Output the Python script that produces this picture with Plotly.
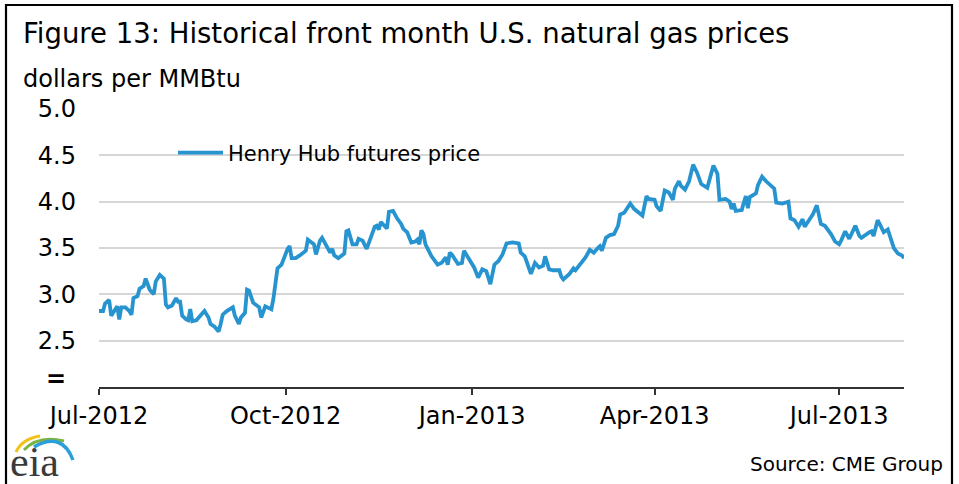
import plotly.graph_objects as go

# ---------------- data ----------------
dates = [
    "2012-07-01", "2012-07-03", "2012-07-04", "2012-07-06", "2012-07-07", "2012-07-08",
    "2012-07-10", "2012-07-11", "2012-07-12", "2012-07-14", "2012-07-16", "2012-07-17",
    "2012-07-18", "2012-07-20", "2012-07-21", "2012-07-23", "2012-07-24", "2012-07-26",
    "2012-07-28", "2012-07-29", "2012-07-31",
    "2012-08-02", "2012-08-03", "2012-08-04", "2012-08-06", "2012-08-08", "2012-08-09",
    "2012-08-10", "2012-08-11", "2012-08-13", "2012-08-14", "2012-08-15", "2012-08-16",
    "2012-08-18", "2012-08-20", "2012-08-22", "2012-08-24", "2012-08-25", "2012-08-27",
    "2012-08-29", "2012-08-30", "2012-08-31",
    "2012-09-02", "2012-09-05", "2012-09-06", "2012-09-08", "2012-09-09", "2012-09-11",
    "2012-09-12", "2012-09-13", "2012-09-15", "2012-09-18", "2012-09-19", "2012-09-21",
    "2012-09-24", "2012-09-25", "2012-09-27", "2012-09-29",
    "2012-10-02", "2012-10-03", "2012-10-04", "2012-10-06", "2012-10-08", "2012-10-11",
    "2012-10-12", "2012-10-15", "2012-10-16", "2012-10-18", "2012-10-19", "2012-10-21",
    "2012-10-23", "2012-10-24", "2012-10-25", "2012-10-27", "2012-10-30", "2012-10-31",
    "2012-11-01", "2012-11-03", "2012-11-05", "2012-11-06", "2012-11-08", "2012-11-10",
    "2012-11-12", "2012-11-14", "2012-11-15", "2012-11-16", "2012-11-17", "2012-11-18",
    "2012-11-20", "2012-11-21", "2012-11-23", "2012-11-25", "2012-11-27", "2012-11-28",
    "2012-11-30",
    "2012-12-02", "2012-12-04", "2012-12-05", "2012-12-06", "2012-12-07", "2012-12-08",
    "2012-12-09", "2012-12-10", "2012-12-12", "2012-12-15", "2012-12-17", "2012-12-19",
    "2012-12-20", "2012-12-21", "2012-12-22", "2012-12-25", "2012-12-27", "2012-12-28",
    "2012-12-31",
    "2013-01-02", "2013-01-04", "2013-01-06", "2013-01-08", "2013-01-10", "2013-01-12",
    "2013-01-14", "2013-01-16", "2013-01-18", "2013-01-21", "2013-01-24", "2013-01-25",
    "2013-01-27", "2013-01-30",
    "2013-02-01", "2013-02-03", "2013-02-05", "2013-02-06", "2013-02-08", "2013-02-10",
    "2013-02-13", "2013-02-14", "2013-02-15", "2013-02-18", "2013-02-20", "2013-02-21",
    "2013-02-24", "2013-02-26", "2013-02-28",
    "2013-03-02", "2013-03-04", "2013-03-05", "2013-03-06", "2013-03-08", "2013-03-10",
    "2013-03-12", "2013-03-14", "2013-03-15", "2013-03-17", "2013-03-20", "2013-03-22",
    "2013-03-24", "2013-03-26", "2013-03-28", "2013-03-29",
    "2013-04-01", "2013-04-02", "2013-04-04", "2013-04-06", "2013-04-08", "2013-04-10",
    "2013-04-11", "2013-04-13", "2013-04-14", "2013-04-16", "2013-04-18", "2013-04-20",
    "2013-04-22", "2013-04-24", "2013-04-27", "2013-04-30",
    "2013-05-02", "2013-05-03", "2013-05-06", "2013-05-08", "2013-05-09", "2013-05-10",
    "2013-05-11", "2013-05-14", "2013-05-15", "2013-05-16", "2013-05-17", "2013-05-18",
    "2013-05-21", "2013-05-22", "2013-05-24", "2013-05-26", "2013-05-30", "2013-05-31",
    "2013-06-03", "2013-06-06", "2013-06-07", "2013-06-09", "2013-06-11", "2013-06-13",
    "2013-06-14", "2013-06-18", "2013-06-20", "2013-06-22", "2013-06-24", "2013-06-27",
    "2013-06-29",
    "2013-07-01", "2013-07-02", "2013-07-04", "2013-07-06", "2013-07-09", "2013-07-11",
    "2013-07-12", "2013-07-16", "2013-07-17", "2013-07-18", "2013-07-20", "2013-07-21",
    "2013-07-23", "2013-07-25", "2013-07-27", "2013-07-28", "2013-07-30",
    "2013-08-01", "2013-08-02",
]

henry_hub_prices = [
    2.82, 2.82, 2.90, 2.94, 2.77, 2.80,
    2.87, 2.73, 2.86, 2.86, 2.82, 2.78,
    2.96, 2.98, 3.06, 3.09, 3.17, 3.05,
    3.00, 3.14, 3.21,
    3.17, 2.89, 2.86, 2.88, 2.96, 2.92,
    2.92, 2.77, 2.73, 2.72, 2.84, 2.71,
    2.72, 2.77, 2.82, 2.75, 2.68, 2.65,
    2.60, 2.68, 2.78,
    2.82, 2.86, 2.77, 2.68, 2.75, 2.80,
    3.05, 3.04, 2.91, 2.86, 2.75, 2.87,
    2.84, 2.95, 3.28, 3.32,
    3.49, 3.52, 3.39, 3.39, 3.42, 3.47,
    3.59, 3.54, 3.43, 3.58, 3.61, 3.52,
    3.45, 3.49, 3.42, 3.39, 3.44, 3.68,
    3.69, 3.54, 3.54, 3.60, 3.58, 3.49,
    3.61, 3.73, 3.74, 3.70, 3.78, 3.76,
    3.71, 3.89, 3.90, 3.82, 3.76, 3.71,
    3.67,
    3.56, 3.57, 3.59, 3.54, 3.69, 3.65,
    3.54, 3.49, 3.41, 3.32, 3.34, 3.40,
    3.32, 3.45, 3.43, 3.33, 3.34, 3.47,
    3.36,
    3.29, 3.18, 3.27, 3.25, 3.11, 3.32,
    3.36, 3.43, 3.55, 3.56, 3.55, 3.45,
    3.41, 3.22,
    3.34, 3.29, 3.31, 3.41, 3.27, 3.26,
    3.26, 3.19, 3.16, 3.22, 3.28, 3.26,
    3.34, 3.40, 3.48,
    3.45, 3.50, 3.52, 3.47, 3.61, 3.64,
    3.65, 3.74, 3.86, 3.88, 3.98, 3.92,
    3.88, 3.85, 4.06, 4.03,
    4.02, 3.95, 3.90, 4.12, 4.10, 4.02,
    4.14, 4.22, 4.17, 4.13, 4.22, 4.40,
    4.31, 4.19, 4.15, 4.39,
    4.30, 4.02, 4.03, 4.00, 3.92, 3.98,
    3.90, 3.91, 3.99, 4.06, 3.93, 4.05,
    4.09, 4.18, 4.27, 4.22, 4.14, 3.99,
    3.98, 4.00, 3.82, 3.80, 3.73, 3.81,
    3.73, 3.86, 3.96, 3.76, 3.74, 3.65,
    3.57,
    3.54, 3.58, 3.68, 3.60, 3.74, 3.63,
    3.61, 3.67, 3.68, 3.63, 3.80, 3.76,
    3.67, 3.70, 3.58, 3.50, 3.44,
    3.42, 3.39,
]

series_name = "Henry Hub futures price"
x_tick_vals = ["2012-07-01", "2012-10-01", "2013-01-01", "2013-04-01", "2013-07-01"]
x_tick_text = ["Jul-2012", "Oct-2012", "Jan-2013", "Apr-2013", "Jul-2013"]
x_range = ["2012-07-01", "2013-08-02"]
y_tick_vals = [2.5, 3.0, 3.5, 4.0, 4.5, 5.0]
y_tick_text = ["2.5", "3.0", "3.5", "4.0", "4.5", "5.0"]
y_range = [2.0, 5.0]

title_text = "Figure 13: Historical front month U.S. natural gas prices"
units_text = "dollars per MMBtu"
source_text = "Source: CME Group"

# ---------------- layout helpers ----------------
W, H = 959, 484
L, R, T, B = 99, 55, 109, 97
PW, PH = W - L - R, H - T - B


def px(x):
    return (x - L) / PW


def py(y):
    return (H - B - y) / PH


FONT = "DejaVu Sans"
LINE_BLUE = "#2794d0"

fig = go.Figure()
fig.add_trace(go.Scatter(
    x=dates, y=henry_hub_prices, mode="lines", name=series_name,
    line=dict(color=LINE_BLUE, width=3.8),
))

fig.update_layout(
    width=W, height=H,
    margin=dict(l=L, r=R, t=T, b=B, pad=0),
    paper_bgcolor="white", plot_bgcolor="white",
    font=dict(family=FONT, color="#000000", size=24),
    showlegend=True,
    legend=dict(x=px(173), y=py(153), xanchor="left", yanchor="middle",
                bgcolor="rgba(0,0,0,0)", font=dict(size=21, family=FONT),
                itemwidth=45),
)

fig.update_xaxes(
    type="date", range=x_range,
    tickmode="array", tickvals=x_tick_vals, ticktext=x_tick_text,
    ticks="outside", ticklen=6, tickwidth=1.5, tickcolor="#333333",
    showline=True, linecolor="#333333", linewidth=1.5,
    showgrid=False, zeroline=False,
    tickfont=dict(size=24, family=FONT),
)
fig.update_yaxes(
    range=y_range, tickmode="array", tickvals=y_tick_vals, ticktext=y_tick_text,
    showgrid=True, gridcolor="#d6d6d6", gridwidth=2,
    showline=False, zeroline=False, ticks="",
    ticklabelstandoff=22,
    tickfont=dict(size=24, family=FONT),
)

annotations = [
    dict(text=title_text, x=px(21), y=py(33), xanchor="left", yanchor="middle",
         font=dict(size=27.5, family=FONT, color="#000000")),
    dict(text=units_text, x=px(21), y=py(79), xanchor="left", yanchor="middle",
         font=dict(size=24, family=FONT, color="#000000")),
    dict(text="<b>=</b>", x=px(56), y=py(379), xanchor="center", yanchor="middle",
         font=dict(size=24, family=FONT, color="#000000")),
    dict(text=source_text, x=px(945), y=py(464), xanchor="right", yanchor="middle",
         font=dict(size=20, family=FONT, color="#000000")),
    dict(text="eia", x=px(8), y=py(462), xanchor="left", yanchor="middle",
         font=dict(size=42, family="Liberation Serif", color="#3a3a3a")),
]
for a in annotations:
    a.update(xref="paper", yref="paper", showarrow=False)
fig.update_layout(annotations=annotations)


def qpath(p0, c, p1):
    return "M {:.5f},{:.5f} Q {:.5f},{:.5f} {:.5f},{:.5f}".format(
        px(p0[0]), py(p0[1]), px(c[0]), py(c[1]), px(p1[0]), py(p1[1]))


shapes = [
    # outer frame
    dict(type="rect", x0=px(6), x1=px(952), y0=py(5), y1=py(492),
         line=dict(color="#000000", width=2.2), fillcolor="rgba(0,0,0,0)"),
    # eia logo arcs
    dict(type="path", path=qpath((16, 452), (22, 439), (40, 436)),
         line=dict(color="#f2c21b", width=3)),
    dict(type="path", path=qpath((24, 450), (38, 435), (64, 441)),
         line=dict(color="#7cb342", width=3)),
    dict(type="path", path=qpath((34, 447), (62, 431), (73, 460)),
         line=dict(color="#2a9fd8", width=3.5)),
]
for s in shapes:
    s.update(xref="paper", yref="paper", layer="above")
fig.update_layout(shapes=shapes)

fig.write_html("out.html", config={"displayModeBar": False},
               post_script="document.body.style.margin='0px';")
